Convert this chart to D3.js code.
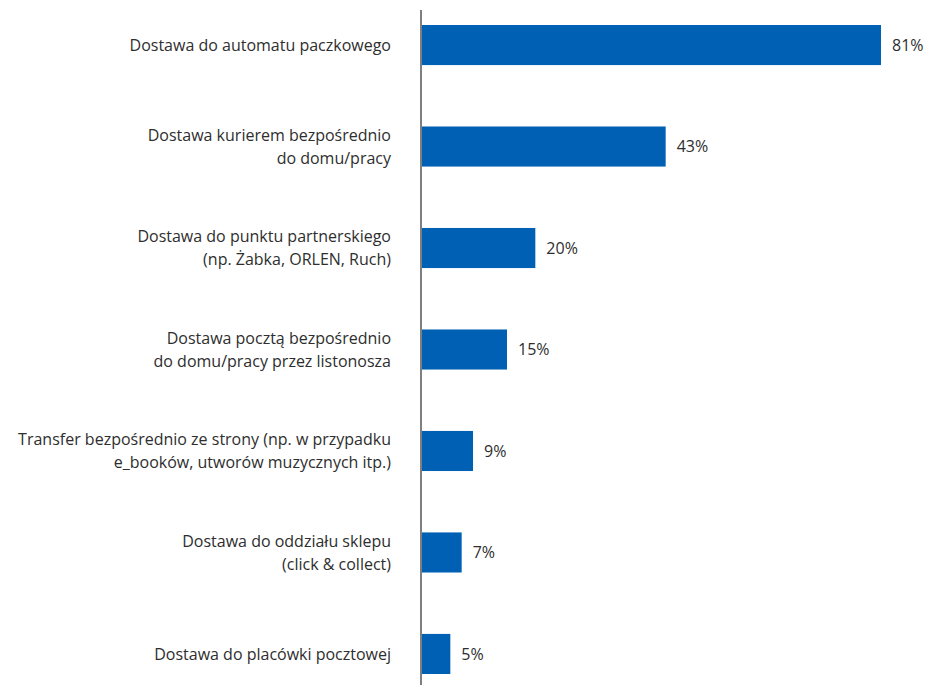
<!DOCTYPE html>
<html>
<head>
<meta charset="utf-8">
<script src="https://cdn.jsdelivr.net/npm/d3@7"></script>
<style>
  body { margin: 0; background: #fff; }
  text { font-family: "Open Sans", "Noto Sans", sans-serif; fill: #2e2e2e; }
</style>
</head>
<body>
<svg id="viz" width="931" height="685"></svg>
<script>
// categories (each entry = label lines)
var categories = [
  ['Dostawa do automatu paczkowego'],
  ['Dostawa kurierem bezpośrednio', 'do domu/pracy'],
  ['Dostawa do punktu partnerskiego', '(np. Żabka, ORLEN, Ruch)'],
  ['Dostawa pocztą bezpośrednio', 'do domu/pracy przez listonosza'],
  ['Transfer bezpośrednio ze strony (np. w przypadku', 'e_booków, utworów muzycznych itp.)'],
  ['Dostawa do oddziału sklepu', '(click & collect)'],
  ['Dostawa do placówki pocztowej']
];
var values = [81, 43, 20, 15, 9, 7, 5];

var svg = d3.select('#viz');
var axisX = 421;

var x = d3.scaleLinear().domain([0, 81]).range([axisX + 1, 881]);

var y = d3
  .scaleBand()
  .domain(d3.range(categories.length))
  .range([25, 674])
  .paddingInner(0.605)
  .paddingOuter(0);

// bars
svg
  .selectAll('rect.bar')
  .data(values)
  .enter()
  .append('rect')
  .attr('class', 'bar')
  .attr('x', x(0))
  .attr('y', function (d, i) { return y(i); })
  .attr('width', function (d) { return x(d) - x(0); })
  .attr('height', y.bandwidth())
  .attr('fill', '#0061b4');

// vertical axis line
svg
  .append('line')
  .attr('x1', axisX)
  .attr('x2', axisX)
  .attr('y1', 10)
  .attr('y2', 685)
  .attr('stroke', '#7f7f7f')
  .attr('stroke-width', 2);

// value labels
svg
  .selectAll('text.val')
  .data(values)
  .enter()
  .append('text')
  .attr('class', 'val')
  .attr('x', function (d) { return x(d) + 11; })
  .attr('y', function (d, i) { return y(i) + y.bandwidth() / 2; })
  .attr('dy', '0.35em')
  .style('font-size', '16px')
  .text(function (d) { return d + '%'; });

// category labels
var lineH = 23;
var labels = svg
  .selectAll('text.cat')
  .data(categories)
  .enter()
  .append('text')
  .attr('class', 'cat')
  .attr('text-anchor', 'end')
  .style('font-size', '16px');

labels.each(function (lines, i) {
  var cy = y(i) + y.bandwidth() / 2;
  var top = cy - ((lines.length - 1) * lineH) / 2;
  d3.select(this)
    .selectAll('tspan')
    .data(lines)
    .enter()
    .append('tspan')
    .attr('x', 391)
    .attr('y', function (d, j) { return top + j * lineH; })
    .attr('dy', '0.35em')
    .text(function (d) { return d; });
});
</script>
</body>
</html>
